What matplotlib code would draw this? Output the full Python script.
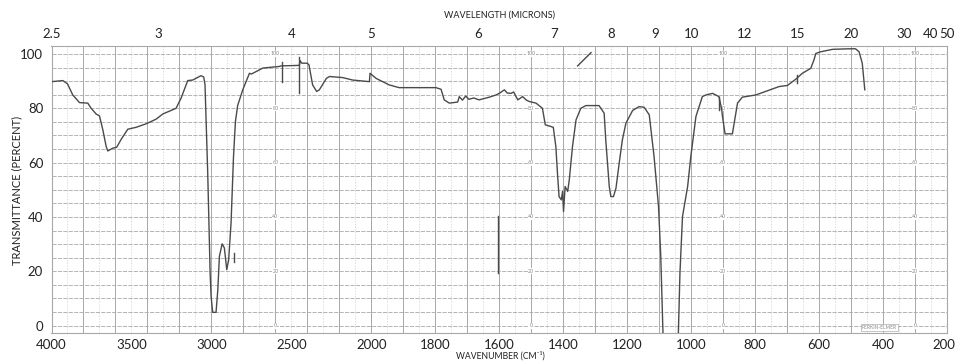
import numpy as np
import matplotlib.pyplot as plt
from matplotlib.transforms import ScaledTranslation

# Spectrum trace (wavenumber in cm-1, transmittance in %)
wavenumber = [
    4000, 3929, 3900, 3867, 3825, 3773, 3752, 3721, 3700, 3679, 3658, 3648,
    3617, 3592, 3564, 3523, 3471, 3408, 3346, 3304, 3221, 3190, 3148, 3117,
    3065, 3048, 3040, 3023, 3008, 3002, 2992, 2971, 2960, 2950, 2933, 2919,
    2904, 2892, 2877, 2862, 2850, 2836, 2804, 2762, 2750, 2679, 2575, 2565,
    2450, 2446, 2435, 2400, 2390, 2367, 2342, 2325, 2281, 2262, 2179, 2117,
    2012, 2008, 1985, 1944, 1913, 1860, 1798, 1782, 1772, 1756, 1730, 1725,
    1715, 1705, 1695, 1680, 1663, 1631, 1610, 1600, 1584, 1575, 1563, 1555,
    1542, 1527, 1515, 1506, 1485, 1465, 1456, 1444, 1431, 1423, 1418, 1413,
    1406, 1402, 1399, 1394, 1386, 1381, 1371, 1360, 1345, 1329, 1288, 1272,
    1267, 1256, 1251, 1243, 1235, 1225, 1215, 1204, 1183, 1163, 1147, 1131,
    1116, 1102, 1095, 1088, 1080, 1045, 1040, 1035, 1027, 1011, 1001, 985,
    965, 954, 933, 913, 905, 902, 894, 871, 862, 855, 840, 798, 767, 725,
    699, 673, 652, 626, 616, 610, 595, 558, 506, 486, 475, 465, 457,
]
transmittance = [
    89.8, 90.2, 89.0, 84.9, 82.1, 81.9, 80.0, 77.9, 77.2, 72.1, 65.9, 64.3,
    65.3, 65.7, 68.6, 72.3, 73.0, 74.3, 76.0, 77.9, 80.0, 83.7, 90.2, 90.4,
    92.0, 91.5, 88.6, 56.0, 19.4, 10.8, 4.9, 4.9, 13.2, 25.5, 30.1, 28.6,
    20.6, 24.3, 38.0, 62.0, 75.0, 81.0, 86.8, 92.9, 92.6, 94.8, 95.4, 95.6,
    95.8, 97.6, 96.6, 96.6, 96.0, 88.6, 86.2, 86.8, 91.0, 91.7, 91.3, 90.4,
    89.8, 92.9, 91.0, 88.6, 87.6, 87.6, 87.6, 87.0, 83.1, 81.9, 82.3, 84.3,
    83.0, 84.5, 83.3, 83.8, 83.1, 84.1, 84.9, 85.5, 86.8, 85.6, 85.5, 86.0,
    83.1, 84.3, 83.0, 82.5, 81.9, 80.0, 73.9, 73.5, 73.0, 65.9, 56.1, 47.5,
    46.3, 49.4, 42.0, 51.2, 49.4, 53.7, 65.9, 75.7, 80.0, 81.0, 81.0, 78.2,
    68.4, 51.2, 47.5, 47.5, 50.6, 59.8, 68.4, 74.5, 79.2, 80.6, 80.4, 77.6,
    62.3, 43.9, 25.5, -3.0, -15.0, -15.0, -3.0, 19.4, 40.2, 51.2, 62.3, 77.0,
    84.3, 84.9, 85.5, 84.3, 80.0, 77.0, 70.6, 70.6, 77.0, 81.9, 84.1, 84.9, 86.2, 88.0,
    88.4, 90.7, 92.9, 94.7, 97.8, 100.2, 100.8, 101.7, 101.9, 101.9, 100.8, 96.6, 86.8,
]

# Stray pen marks on the chart
mark_nu = [[1605, 1605], [2558, 2558], [2450, 2450], [2856, 2856],
           [1355, 1313], [913, 913], [670, 670]]
mark_t = [[40.2, 19.4], [97.2, 89.8], [99.0, 85.5], [26.8, 23.5],
          [95.6, 100.5], [84.0, 79.5], [92.3, 89.4]]

bottom_ticks = [4000, 3500, 3000, 2500, 2000, 1800, 1600, 1400, 1200,
                1000, 800, 600, 400, 200]
top_microns = [2.5, 3, 4, 5, 6, 7, 8, 9, 10, 12, 15, 20, 30, 40, 50]
y_ticks = [0, 20, 40, 60, 80, 100]
inner_label_nu = [2600, 1500, 900, 300]

FONT = "Lato"
INK = "#4a4a4a"
GRID = "#a8a8a8"


# chart paper changes scale by 2x at 2000 cm-1
def fwd(v):
    v = np.asarray(v, dtype=float)
    return np.where(v > 2000, 2000 + (v - 2000) / 2, v)


def inv(u):
    u = np.asarray(u, dtype=float)
    return np.where(u > 2000, 2000 + (u - 2000) * 2, u)


plt.rcParams["font.family"] = [FONT, "DejaVu Sans"]

W, H = 956, 361
fig = plt.figure(figsize=(W / 100, H / 100), dpi=100)
left, right, top, bottom = 51.5, 947, 45.8, 333
ax = fig.add_axes([left / W, (H - bottom) / H, (right - left) / W, (bottom - top) / H])
ax.set_xscale("function", functions=(fwd, inv))
ax.set_xlim(4000, 200)
ax.set_ylim(-2.7, 103)

# grid of the chart paper
major = list(range(4000, 2000, -200)) + list(range(2000, 199, -100))
minor = list(range(3900, 2000, -200)) + list(range(1950, 199, -100))
for v in major:
    ax.axvline(v, color=GRID, lw=0.7, zorder=1)
for v in minor:
    ax.axvline(v, color="#cfcfcf", lw=0.5, ls=(0, (2, 2)), zorder=1)
for t in range(0, 101, 5):
    ax.axhline(t, color=GRID, lw=0.6, ls=(0, (5, 1.5)), zorder=1)

for v in inner_label_nu:
    for t in y_ticks:
        ax.text(v, t, str(t), fontsize=3.8, color="#8a8a8a", ha="center",
                va="center", zorder=2,
                bbox=dict(fc="white", ec="none", pad=0.3))

ax.plot(wavenumber, transmittance, color=INK, lw=1.0, zorder=3)
for mn, mt in zip(mark_nu, mark_t):
    ax.plot(mn, mt, color=INK, lw=1.0, zorder=3)

ax.text(412, -0.6, "PERKIN-ELMER", fontsize=3.5, color="#888888",
        ha="center", va="center", zorder=4,
        bbox=dict(fc="white", ec="#999999", lw=0.4, pad=0.8))

for s in ax.spines.values():
    s.set_color(GRID)
    s.set_linewidth(0.8)

ax.set_xticks(bottom_ticks)
ax.set_xticklabels([str(t) for t in bottom_ticks])
ax.set_yticks(y_ticks)
ax.set_yticklabels([str(t) for t in y_ticks])
ax.tick_params(axis="both", length=0, labelsize=9.5, colors="#222222")
ax.tick_params(axis="x", pad=4)
ax.tick_params(axis="y", pad=6)
# last label sits against the page edge
last = ax.get_xticklabels()[-1]
last.set_transform(last.get_transform() + ScaledTranslation(-3 / 100, 0, fig.dpi_scale_trans))

# wavelength scale along the top
ax2 = ax.twiny()
ax2.set_xscale("function", functions=(fwd, inv))
ax2.set_xlim(4000, 200)
ax2.set_xticks([1e4 / m for m in top_microns])
ax2.set_xticklabels([f"{m:g}" for m in top_microns])
ax2.tick_params(axis="x", length=0, labelsize=9.5, colors="#222222", pad=4)
for s in ax2.spines.values():
    s.set_visible(False)

fig.text(500 / W, 1 - 15 / H, "WAVELENGTH (MICRONS)", fontsize=6.5,
         ha="center", va="center", color="#222222")
fig.text(500 / W, 1 - 356 / H, "WAVENUMBER (CM\u207b\u00b9)", fontsize=6.2,
         ha="center", va="center", color="#222222")
fig.text(17 / W, 1 - 190 / H, "TRANSMITTANCE (PERCENT)", fontsize=8,
         rotation=90, ha="center", va="center", color="#222222")

fig.savefig("out.png", dpi=100, facecolor="white")
